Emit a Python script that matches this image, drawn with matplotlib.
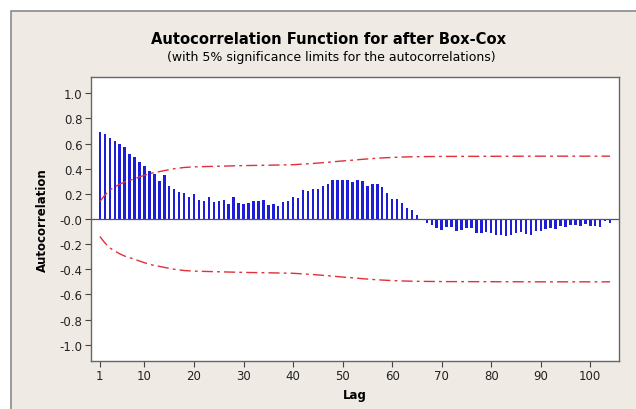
import numpy as np
import matplotlib.pyplot as plt
from matplotlib.patches import Rectangle

plt.rcParams['font.family'] = ['DejaVu Sans']
plt.rcParams['axes.unicode_minus'] = False

# autocorrelation values, lags 1..104
acf = [0.69, 0.675, 0.645, 0.62, 0.60, 0.575, 0.52, 0.49, 0.45, 0.42,
       0.385, 0.357, 0.30, 0.35, 0.265, 0.235, 0.213, 0.205, 0.177, 0.198,
       0.148, 0.14, 0.174, 0.133, 0.142, 0.148, 0.117, 0.175, 0.124, 0.12,
       0.129, 0.142, 0.142, 0.15, 0.108, 0.118, 0.10, 0.132, 0.147, 0.174,
       0.165, 0.229, 0.221, 0.237, 0.237, 0.263, 0.282, 0.308, 0.314, 0.308,
       0.314, 0.298, 0.314, 0.303, 0.266, 0.282, 0.277, 0.255, 0.205, 0.163,
       0.156, 0.124, 0.09, 0.072, 0.034, -0.008, -0.03, -0.05, -0.07, -0.09,
       -0.065, -0.06, -0.095, -0.085, -0.075, -0.075, -0.115, -0.11, -0.105, -0.115,
       -0.125, -0.13, -0.135, -0.127, -0.113, -0.105, -0.12, -0.127, -0.092, -0.092,
       -0.081, -0.073, -0.081, -0.053, -0.061, -0.047, -0.047, -0.053, -0.042, -0.053,
       -0.053, -0.065, -0.012, -0.032]
lags = np.arange(1, len(acf) + 1)

# 5% significance limit (upper; lower is the mirror), read at a set of lags
lim_lags = [1, 2, 3, 4, 5, 6, 7, 8, 9, 10, 11, 12, 13, 14, 16, 18, 20, 25, 30,
            35, 40, 42, 44, 46, 48, 50, 52, 54, 56, 58, 60, 62, 65, 70, 80, 90, 104]
lim_vals = [0.14, 0.19, 0.23, 0.255, 0.277, 0.295, 0.308, 0.32, 0.335, 0.348,
            0.36, 0.37, 0.377, 0.385, 0.40, 0.41, 0.415, 0.42, 0.425,
            0.428, 0.432, 0.437, 0.442, 0.448, 0.455, 0.462, 0.468, 0.475, 0.481,
            0.486, 0.49, 0.493, 0.496, 0.498, 0.499, 0.5, 0.5]

xticks = [1, 10, 20, 30, 40, 50, 60, 70, 80, 90, 100]
yticks = np.round(np.arange(-1.0, 1.01, 0.2), 1)

fig = plt.figure(figsize=(6.36, 4.10), dpi=100, facecolor='white')
# beige panel with grey border, running off the right and bottom edges
fig.patches.append(Rectangle((11 / 636, -0.1), 1.2, (1 - 12 / 410) + 0.1,
                             transform=fig.transFigure, facecolor='#efebe4',
                             edgecolor='#8a8a8a', linewidth=1.2, zorder=-10))

ax = fig.add_axes([91 / 636, 1 - 362 / 410, (619 - 91) / 636, (362 - 78) / 410])
ax.set_facecolor('white')

ax.bar(lags, acf, width=0.5, color='#1e1ed8', linewidth=0)
ax.axhline(0, color='#555555', linewidth=0.9)
ax.plot(lim_lags, lim_vals, color='#e0303a', linewidth=1.0, dashes=[8, 3, 2, 3])
ax.plot(lim_lags, [-v for v in lim_vals], color='#e0303a', linewidth=1.0, dashes=[8, 3, 2, 3])

ax.set_xlim(-0.8, 105.8)
ax.set_ylim(-1.13, 1.13)
ax.set_xticks(xticks)
ax.set_yticks(yticks)
ax.set_yticklabels(['%.1f' % v for v in yticks])
ax.tick_params(labelsize=8.5, length=4, color='#444444', labelcolor='#222222', pad=2)
for s in ax.spines.values():
    s.set_color('#666666')
    s.set_linewidth(1.0)

ax.set_xlabel('Lag', fontsize=8.5, fontweight='bold', labelpad=4)
ax.set_ylabel('Autocorrelation', fontsize=8.5, fontweight='bold', labelpad=8)

fig.text(329 / 636, 1 - 40 / 410, 'Autocorrelation Function for after Box-Cox',
         ha='center', va='center', fontsize=10.6, fontweight='bold')
fig.text(331 / 636, 1 - 57 / 410, '(with 5% significance limits for the autocorrelations)',
         ha='center', va='center', fontsize=9.0)

fig.savefig('out.png', dpi=100, facecolor=fig.get_facecolor())
